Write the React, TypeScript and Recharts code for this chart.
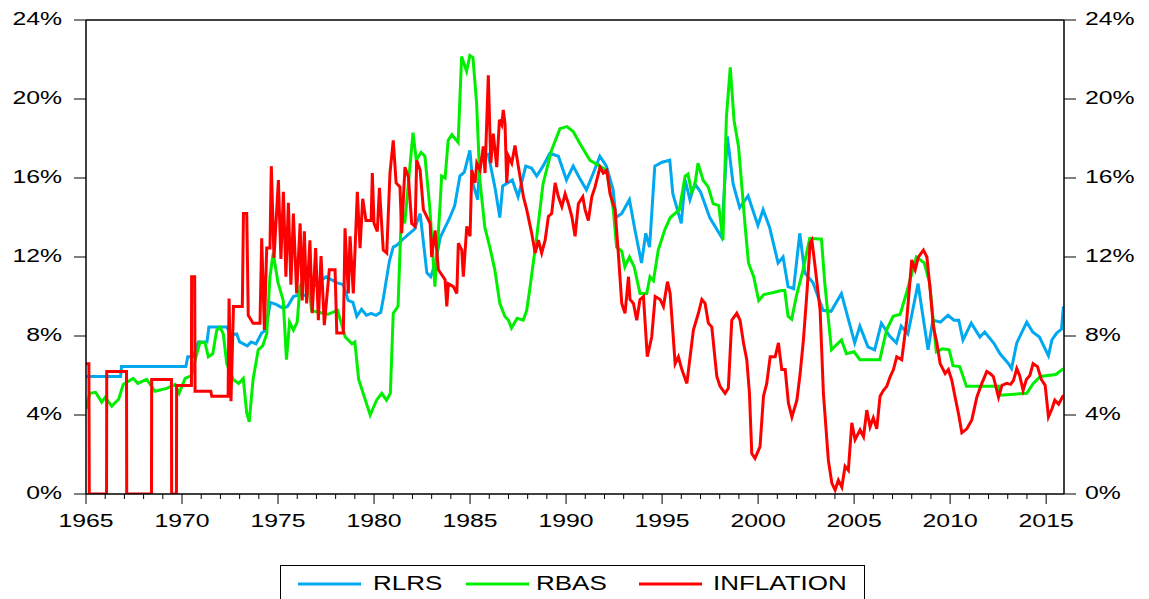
import { LineChart, Line, XAxis, YAxis, ReferenceLine } from "recharts";

// ─── Series: [year, percent] ────────────────────────────────────────────────

const RLRS: [number, number][] = [
    [1965.0, 5.95], [1966.8, 5.95], [1966.85, 6.45], [1970.2, 6.45], [1970.3, 6.95], [1970.6, 6.95],
    [1970.85, 7.7], [1971.3, 7.7], [1971.4, 8.45], [1972.35, 8.45], [1972.5, 8.05], [1972.85, 8.1],
    [1973.0, 7.7], [1973.4, 7.5], [1973.6, 7.7], [1973.85, 7.6], [1974.15, 8.15], [1974.35, 8.3],
    [1974.6, 9.7], [1974.9, 9.6], [1975.27, 9.4], [1975.5, 9.5], [1975.8, 10.0], [1976.15, 10.1],
    [1976.45, 10.05], [1976.85, 10.5], [1977.5, 11.0], [1978.05, 10.7], [1978.4, 10.6], [1978.65, 9.8],
    [1978.9, 9.7], [1979.1, 9.0], [1979.35, 9.35], [1979.6, 9.05], [1979.85, 9.15], [1980.1, 9.05],
    [1980.35, 9.2], [1980.5, 10.0], [1980.8, 11.8], [1981.0, 12.5], [1981.2, 12.6], [1981.5, 12.9],
    [1981.85, 13.2], [1982.1, 13.4], [1982.4, 14.2], [1982.6, 12.5], [1982.75, 11.2], [1982.95, 11.0],
    [1983.2, 11.7], [1983.45, 13.0], [1983.7, 13.5], [1983.95, 14.0], [1984.2, 14.6], [1984.47, 16.1],
    [1984.7, 16.3], [1984.99, 17.4], [1985.15, 15.7], [1985.4, 14.9], [1985.5, 16.9], [1985.7, 17.1],
    [1985.95, 17.2], [1986.3, 15.5], [1986.55, 14.0], [1986.7, 15.6], [1987.2, 15.9], [1987.5, 15.05],
    [1987.9, 16.6], [1988.2, 16.5], [1988.47, 16.1], [1988.8, 16.6], [1989.15, 17.25], [1989.6, 17.1],
    [1990.02, 15.9], [1990.37, 16.6], [1990.7, 16.0], [1991.06, 15.4], [1991.4, 16.2], [1991.76, 17.1],
    [1992.1, 16.6], [1992.45, 15.4], [1992.6, 14.0], [1992.9, 14.2], [1993.3, 14.9], [1993.6, 13.3],
    [1993.93, 11.7], [1994.15, 13.2], [1994.35, 12.5], [1994.62, 16.6], [1995.0, 16.8], [1995.4, 16.9],
    [1995.56, 15.2], [1996.0, 13.7], [1996.2, 15.9], [1996.45, 14.9], [1996.7, 15.7], [1997.0, 15.3],
    [1997.48, 14.0], [1998.1, 13.0], [1998.4, 18.1], [1998.7, 15.7], [1999.04, 14.5], [1999.48, 15.1],
    [1999.99, 13.6], [2000.26, 14.4], [2000.6, 13.5], [2001.04, 11.7], [2001.3, 12.0], [2001.56, 10.5],
    [2001.85, 10.4], [2002.17, 13.2], [2002.43, 11.2], [2002.86, 10.7], [2003.38, 9.3], [2003.8, 9.25],
    [2004.34, 10.15], [2005.03, 7.65], [2005.3, 8.5], [2005.72, 7.45], [2006.07, 7.3], [2006.42, 8.65],
    [2006.85, 8.0], [2007.2, 7.65], [2007.45, 8.5], [2007.8, 8.1], [2008.33, 10.65], [2008.6, 8.9],
    [2008.85, 7.3], [2009.1, 8.8], [2009.5, 8.7], [2009.89, 9.05], [2010.2, 8.8], [2010.45, 8.8],
    [2010.67, 7.8], [2011.1, 8.65], [2011.55, 7.95], [2011.8, 8.2], [2012.3, 7.6], [2012.6, 7.1],
    [2013.04, 6.6], [2013.2, 6.35], [2013.47, 7.65], [2013.99, 8.7], [2014.3, 8.2], [2014.65, 7.95],
    [2015.12, 7.0], [2015.3, 7.8], [2015.55, 8.15], [2015.8, 8.35], [2015.9, 9.5],
];

const RBAS: [number, number][] = [
    [1965.0, 4.3], [1965.2, 5.1], [1965.5, 5.15], [1965.82, 4.65], [1966.0, 4.9], [1966.34, 4.45],
    [1966.7, 4.8], [1966.94, 5.55], [1967.46, 5.85], [1967.7, 5.6], [1968.16, 5.8], [1968.59, 5.2],
    [1969.2, 5.35], [1969.64, 5.55], [1969.85, 5.1], [1970.16, 5.85], [1970.5, 6.0], [1970.77, 7.1],
    [1970.94, 7.7], [1971.2, 7.65], [1971.37, 6.95], [1971.6, 7.1], [1971.81, 8.3], [1971.98, 8.45],
    [1972.15, 8.1], [1972.33, 6.6], [1972.67, 5.8], [1972.95, 5.6], [1973.19, 5.85], [1973.37, 4.1],
    [1973.5, 3.65], [1973.7, 5.8], [1973.97, 7.3], [1974.2, 7.5], [1974.41, 8.1], [1974.58, 11.0],
    [1974.75, 12.2], [1975.0, 10.7], [1975.27, 9.8], [1975.44, 6.8], [1975.6, 8.7], [1975.8, 8.3],
    [1976.0, 8.7], [1976.14, 10.5], [1976.5, 11.3], [1976.75, 9.3], [1977.1, 9.2], [1977.6, 9.1],
    [1978.1, 9.3], [1978.5, 7.95], [1978.85, 7.6], [1979.0, 7.7], [1979.2, 5.8], [1979.8, 4.0],
    [1980.13, 4.75], [1980.4, 5.1], [1980.65, 4.75], [1980.85, 5.1], [1981.0, 9.15], [1981.25, 9.5],
    [1981.43, 14.4], [1981.6, 13.7], [1982.03, 18.3], [1982.2, 16.9], [1982.45, 17.3], [1982.65, 17.1],
    [1982.9, 14.55], [1983.17, 10.5], [1983.43, 14.5], [1983.52, 16.1], [1983.7, 16.0], [1983.86, 17.9],
    [1984.05, 18.2], [1984.38, 17.8], [1984.56, 22.15], [1984.82, 21.4], [1984.99, 22.2], [1985.15, 22.1],
    [1985.34, 19.8], [1985.51, 15.9], [1985.77, 13.5], [1986.03, 12.5], [1986.29, 11.35], [1986.55, 9.65],
    [1986.81, 9.0], [1987.0, 8.8], [1987.16, 8.4], [1987.45, 8.9], [1987.77, 8.8], [1987.95, 9.3],
    [1988.1, 10.3], [1988.47, 13.0], [1988.8, 15.7], [1989.24, 17.4], [1989.68, 18.5], [1990.05, 18.6],
    [1990.37, 18.35], [1990.72, 17.75], [1991.24, 16.9], [1991.75, 16.6], [1992.1, 16.4], [1992.46, 14.4],
    [1992.63, 12.5], [1992.9, 12.3], [1993.06, 11.5], [1993.3, 12.0], [1993.55, 11.5], [1993.85, 10.15],
    [1994.2, 10.15], [1994.37, 11.0], [1994.55, 10.8], [1994.8, 12.35], [1995.15, 13.4], [1995.43, 14.0],
    [1995.9, 14.4], [1996.2, 16.1], [1996.35, 16.2], [1996.53, 15.3], [1996.7, 15.6], [1996.87, 16.75],
    [1997.13, 15.9], [1997.4, 15.55], [1997.66, 14.7], [1997.95, 14.6], [1998.17, 12.85], [1998.35, 19.1],
    [1998.55, 21.6], [1998.75, 18.9], [1998.98, 17.6], [1999.33, 13.5], [1999.5, 11.7], [1999.77, 11.0],
    [2000.03, 9.8], [2000.3, 10.1], [2000.8, 10.2], [2001.2, 10.3], [2001.39, 10.3], [2001.56, 9.0],
    [2001.75, 8.85], [2001.99, 10.0], [2002.34, 11.35], [2002.69, 12.95], [2003.3, 12.9], [2003.47, 10.7],
    [2003.82, 7.3], [2004.34, 7.8], [2004.6, 7.1], [2005.0, 7.2], [2005.3, 6.8], [2006.34, 6.8],
    [2006.69, 8.3], [2007.03, 9.0], [2007.4, 9.1], [2007.72, 10.15], [2008.24, 12.0], [2008.65, 11.7],
    [2008.93, 10.7], [2009.28, 7.2], [2009.6, 7.35], [2009.95, 7.3], [2010.15, 6.5], [2010.5, 6.45],
    [2010.85, 5.45], [2012.55, 5.45], [2012.6, 5.0], [2013.99, 5.1], [2014.33, 5.6], [2014.7, 5.95],
    [2015.5, 6.05], [2015.9, 6.35],
];

const INFLATION: [number, number][] = [
    [1965.0, 6.6], [1965.15, 6.6], [1965.17, 0], [1966.07, 0], [1966.08, 6.2], [1967.11, 6.2],
    [1967.12, 0], [1968.41, 0], [1968.42, 5.8], [1969.45, 5.8], [1969.46, 0], [1969.71, 0],
    [1969.72, 5.5], [1970.49, 5.5], [1970.5, 11.0], [1970.66, 11.0], [1970.68, 5.2], [1971.5, 5.2],
    [1971.55, 4.95], [1972.4, 4.95], [1972.45, 9.9], [1972.55, 4.7], [1972.68, 9.5], [1973.14, 9.5],
    [1973.2, 14.2], [1973.37, 14.2], [1973.45, 9.05], [1973.7, 8.65], [1974.06, 8.65], [1974.15, 12.95],
    [1974.29, 8.3], [1974.41, 12.45], [1974.58, 12.45], [1974.65, 16.6], [1974.79, 11.95], [1975.02, 15.9],
    [1975.15, 11.9], [1975.28, 15.3], [1975.41, 11.0], [1975.54, 14.75], [1975.67, 10.6], [1975.8, 14.2],
    [1975.97, 10.15], [1976.15, 13.7], [1976.26, 9.8], [1976.37, 13.3], [1976.49, 9.65], [1976.66, 12.85],
    [1976.78, 9.15], [1976.96, 12.45], [1977.1, 8.8], [1977.24, 12.05], [1977.41, 8.55], [1977.67, 11.35],
    [1977.97, 11.35], [1978.06, 8.15], [1978.4, 8.15], [1978.49, 13.45], [1978.66, 10.15], [1978.75, 13.05],
    [1978.92, 10.15], [1979.13, 15.3], [1979.27, 12.45], [1979.41, 14.95], [1979.58, 13.85], [1979.85, 13.85],
    [1979.91, 16.25], [1980.0, 13.7], [1980.17, 13.3], [1980.28, 15.5], [1980.48, 12.35], [1980.66, 12.2],
    [1980.83, 16.25], [1981.0, 17.9], [1981.15, 15.75], [1981.35, 15.55], [1981.44, 13.2], [1981.61, 16.55],
    [1981.79, 16.05], [1981.96, 13.7], [1982.14, 13.55], [1982.22, 16.9], [1982.4, 16.4], [1982.57, 14.4],
    [1982.92, 13.7], [1983.0, 12.0], [1983.18, 13.35], [1983.35, 11.35], [1983.7, 10.85], [1983.79, 9.5],
    [1983.87, 10.65], [1984.13, 10.5], [1984.31, 10.15], [1984.39, 12.7], [1984.57, 12.35], [1984.65, 11.0],
    [1984.83, 13.55], [1985.0, 13.05], [1985.09, 16.4], [1985.26, 15.75], [1985.35, 16.75], [1985.52, 16.4],
    [1985.69, 17.6], [1985.78, 16.25], [1985.95, 21.2], [1986.08, 16.75], [1986.21, 18.25], [1986.3, 17.4],
    [1986.39, 16.55], [1986.53, 18.95], [1986.65, 18.7], [1986.73, 19.45], [1986.82, 18.75], [1986.91, 15.75],
    [1987.0, 17.1], [1987.17, 16.75], [1987.34, 17.65], [1987.52, 16.55], [1987.78, 15.05], [1987.95, 14.4],
    [1988.21, 13.2], [1988.39, 12.2], [1988.56, 12.85], [1988.73, 12.2], [1988.91, 12.85], [1989.08, 14.05],
    [1989.25, 14.2], [1989.43, 15.75], [1989.6, 15.05], [1989.78, 14.55], [1989.95, 15.2], [1990.12, 14.7],
    [1990.3, 14.05], [1990.47, 13.05], [1990.64, 14.7], [1990.87, 15.05], [1990.99, 14.4], [1991.16, 13.85],
    [1991.34, 15.05], [1991.51, 15.55], [1991.77, 16.55], [1991.94, 16.25], [1992.12, 16.4], [1992.29, 15.2],
    [1992.55, 14.4], [1992.72, 12.2], [1992.9, 9.65], [1993.07, 9.15], [1993.25, 11.0], [1993.33, 9.85],
    [1993.51, 9.65], [1993.68, 8.8], [1993.85, 9.85], [1994.03, 10.0], [1994.23, 6.95], [1994.46, 7.95],
    [1994.64, 10.0], [1994.9, 9.85], [1995.07, 9.5], [1995.28, 10.75], [1995.42, 10.15], [1995.68, 6.6],
    [1995.85, 6.95], [1996.03, 6.3], [1996.29, 5.6], [1996.46, 6.95], [1996.63, 8.3], [1996.89, 9.15],
    [1997.07, 9.85], [1997.24, 9.65], [1997.41, 8.65], [1997.59, 8.45], [1997.85, 5.95], [1998.02, 5.45],
    [1998.28, 5.1], [1998.45, 5.35], [1998.63, 8.8], [1998.89, 9.15], [1999.06, 8.8], [1999.24, 7.65],
    [1999.41, 6.8], [1999.55, 5.1], [1999.67, 2.05], [1999.84, 1.8], [2000.1, 2.4], [2000.28, 4.95],
    [2000.45, 5.6], [2000.63, 6.95], [2000.89, 6.95], [2001.06, 7.65], [2001.23, 6.3], [2001.41, 6.3],
    [2001.58, 4.6], [2001.76, 3.9], [2002.02, 4.75], [2002.19, 6.1], [2002.36, 7.8], [2002.54, 10.15],
    [2002.71, 12.7], [2002.8, 12.85], [2002.97, 11.5], [2003.23, 9.3], [2003.4, 5.1], [2003.66, 1.7],
    [2003.84, 0.55], [2004.01, 0.2], [2004.18, 0.7], [2004.36, 0.35], [2004.53, 1.4], [2004.7, 1.2],
    [2004.88, 3.6], [2005.05, 2.75], [2005.31, 3.25], [2005.49, 2.9], [2005.66, 4.25], [2005.83, 3.4],
    [2006.0, 3.85], [2006.18, 3.3], [2006.35, 4.95], [2006.53, 5.25], [2006.7, 5.45], [2006.88, 5.95],
    [2007.05, 6.3], [2007.22, 6.95], [2007.48, 6.8], [2007.74, 8.8], [2008.0, 11.85], [2008.18, 11.35],
    [2008.35, 12.0], [2008.61, 12.35], [2008.79, 12.0], [2008.96, 10.35], [2009.13, 8.45], [2009.31, 7.65],
    [2009.48, 6.6], [2009.74, 6.1], [2009.91, 6.3], [2010.09, 5.75], [2010.26, 4.9], [2010.45, 4.0],
    [2010.61, 3.1], [2010.87, 3.3], [2011.13, 3.75], [2011.39, 4.9], [2011.65, 5.6], [2011.91, 6.2],
    [2012.08, 6.1], [2012.25, 5.95], [2012.52, 4.9], [2012.7, 5.5], [2012.95, 5.6], [2013.15, 5.55],
    [2013.3, 5.75], [2013.47, 6.35], [2013.62, 6.0], [2013.8, 5.25], [2013.97, 5.8], [2014.15, 6.0],
    [2014.32, 6.6], [2014.55, 6.45], [2014.75, 5.8], [2014.95, 5.5], [2015.12, 3.9], [2015.3, 4.3],
    [2015.45, 4.75], [2015.65, 4.55], [2015.9, 5.0],
];

const YEAR_TICKS = Array.from({ length: 51 }, (_, i) => 1965 + i);
const PCT_TICKS = [0, 4, 8, 12, 16, 20, 24];
const X_DOMAIN: [number, number] = [1965, 2015.93];

// RBAS sits on the right-hand scale (same 0–24 range) so that axis gets its ticks
const SERIES = [
    { name: "RLRS", points: RLRS, color: "#00A8F0", axis: "l" },
    { name: "RBAS", points: RBAS, color: "#00EE00", axis: "r" },
    { name: "INFLATION", points: INFLATION, color: "#FF0000", axis: "l" },
];

// ─── Axis text looks horizontally stretched, so scale it a bit ───────────────

const FONT = "'Liberation Sans', Arial, sans-serif";
const STRETCH = 1.34;

function YearTick({ x, y, payload }: any) {
    const yr = payload.value as number;
    const major = yr % 5 === 0;
    return (
        <g>
            <line x1={x} x2={x} y1={y} y2={y + (major ? 10 : 5)} stroke="#000" strokeWidth={1} />
            {major && (
                <text
                    transform={`translate(${x},${y + 33}) scale(${STRETCH},1)`}
                    textAnchor="middle"
                    fontFamily={FONT}
                    fontSize={18.5}
                    fill="#000"
                >
                    {yr}
                </text>
            )}
        </g>
    );
}

function PctTick({ x, y, payload, textAnchor }: any) {
    return (
        <text
            transform={`translate(${x},${y}) scale(${STRETCH},1)`}
            textAnchor={textAnchor}
            dy={4.6}
            fontFamily={FONT}
            fontSize={18.5}
            fill="#000"
        >
            {payload.value}%
        </text>
    );
}

function LegendBox() {
    const items = [
        { ...SERIES[0], lx: 17, tx: 92 },
        { ...SERIES[1], lx: 185, tx: 255 },
        { ...SERIES[2], lx: 358, tx: 432 },
    ];
    return (
        <div
            style={{
                position: "absolute", left: 280, top: 565, width: 585, height: 40,
                border: "1px solid #000", boxSizing: "border-box", background: "#fff",
            }}
        >
            <svg width={585} height={40}>
                {items.map((it) => (
                    <g key={it.name}>
                        <line x1={it.lx} x2={it.lx + 63} y1={18} y2={18} stroke={it.color} strokeWidth={3} />
                        <text
                            transform={`translate(${it.tx},24) scale(1.3,1)`}
                            fontFamily={FONT}
                            fontSize={20}
                            fill="#000"
                        >
                            {it.name}
                        </text>
                    </g>
                ))}
            </svg>
        </div>
    );
}

export default function App() {
    return (
        <div style={{ position: "absolute", left: 0, top: 0, width: 1149, height: 599, background: "#fff" }}>
            <LineChart width={1149} height={599} margin={{ top: 20, right: 0, bottom: 65, left: 0 }}>
                <XAxis
                    dataKey="x"
                    type="number"
                    domain={X_DOMAIN}
                    allowDataOverflow
                    ticks={YEAR_TICKS}
                    interval={0}
                    height={40}
                    tickSize={0}
                    tickMargin={0}
                    tickLine={false}
                    axisLine={{ stroke: "#000", strokeWidth: 1.5 }}
                    tick={<YearTick />}
                />
                <YAxis
                    yAxisId="l"
                    orientation="left"
                    width={86}
                    domain={[0, 24]}
                    allowDataOverflow
                    ticks={PCT_TICKS}
                    interval={0}
                    tickSize={12}
                    tickMargin={12}
                    tickLine={{ stroke: "#000" }}
                    axisLine={{ stroke: "#000", strokeWidth: 1.5 }}
                    tick={<PctTick />}
                />
                <YAxis
                    yAxisId="r"
                    orientation="right"
                    width={85}
                    domain={[0, 24]}
                    allowDataOverflow
                    ticks={PCT_TICKS}
                    interval={0}
                    tickSize={12}
                    tickMargin={9}
                    tickLine={{ stroke: "#000" }}
                    axisLine={{ stroke: "#000", strokeWidth: 1.5 }}
                    tick={<PctTick />}
                />
                <ReferenceLine yAxisId="l" y={24} stroke="#000" strokeWidth={1.5} />
                {SERIES.map((s) => (
                    <Line
                        key={s.name}
                        yAxisId={s.axis}
                        data={s.points.map(([x, v]) => ({ x, v }))}
                        dataKey="v"
                        name={s.name}
                        type="linear"
                        stroke={s.color}
                        strokeWidth={3}
                        dot={false}
                        isAnimationActive={false}
                    />
                ))}
            </LineChart>
            <LegendBox />
        </div>
    );
}
